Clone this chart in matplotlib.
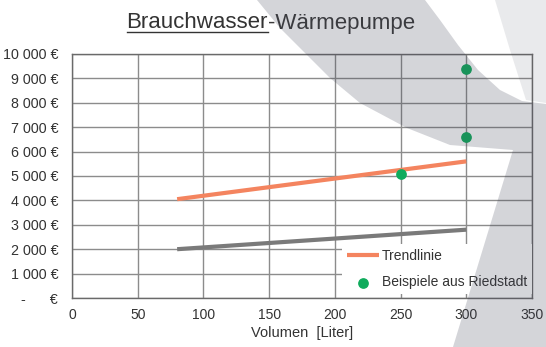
import matplotlib
matplotlib.use("Agg")
import matplotlib.pyplot as plt
from matplotlib.patches import Polygon
from matplotlib.lines import Line2D

plt.rcParams['font.family'] = ['Liberation Sans', 'DejaVu Sans']

# Data
trend_x = [80, 300]
trend_orange = [4050, 5600]
trend_gray = [2000, 2800]
examples_x = [250, 300, 300]
examples_y = [5100, 6600, 9400]
y_ticks = list(range(0, 10001, 1000))
x_ticks = [0, 50, 100, 150, 200, 250, 300, 350]

def fmt(v):
    if v == 0:
        return "-      €"
    return f"{v:,.0f} €".replace(",", " ")

W, H = 546, 347
fig = plt.figure(figsize=(W / 100, H / 100), dpi=100)
fig.patch.set_facecolor('white')

def fp(pts):
    return [(x / W, 1 - y / H) for x, y in pts]

ax = fig.add_axes([72 / W, 1 - 298 / H, (532 - 72) / W, (298 - 54) / H])
ax.set_facecolor('white')
ax.set_xlim(0, 350)
ax.set_ylim(0, 10000)
ax.set_xticks(x_ticks)
ax.set_yticks(y_ticks)
ax.set_yticklabels([fmt(v) for v in y_ticks])
ax.grid(True, color='#8c8c8c', linewidth=1.0)
ax.set_axisbelow(True)
ax.tick_params(length=0, labelsize=10, colors='#333333')
ax.tick_params(axis='y', labelsize=10.3, pad=10)
ax.tick_params(axis='x', pad=7)
for s in ax.spines.values():
    s.set_color('#6a6a6a')
    s.set_linewidth(1.0)

ax.plot(trend_x, trend_gray, color='#7a7a7a', lw=3.0, solid_capstyle='butt')
ax.plot(trend_x, trend_orange, color='#f4845f', lw=3.0, solid_capstyle='butt', label='Trendlinie')
ax.scatter(examples_x, examples_y, s=45, color='#0fab5c', zorder=5, label='Beispiele aus Riedstadt')

leg = ax.legend(loc='lower right', bbox_to_anchor=(1.0, 0.016), frameon=True, fontsize=10,
                handlelength=2.3, handletextpad=0.2, labelspacing=0.9, borderaxespad=0.0,
                borderpad=0.35, fancybox=False, framealpha=1.0)
leg.get_frame().set_facecolor('white')
leg.get_frame().set_edgecolor('none')
for t in leg.get_texts():
    t.set_color('#333333')

ax.set_xlabel('Volumen  [Liter]', fontsize=10.5, color='#333333', labelpad=3)

# Title with underlined first part
tx, ty = 268 / W, 1 - 23 / H
t1 = fig.text(tx, ty, 'Brauchwasser', ha='right', va='center', fontsize=16, color='#333333')
t2 = fig.text(tx, ty, '-Wärmepumpe', ha='left', va='center', fontsize=16, color='#3a3a3a')
fig.canvas.draw()
bb = t1.get_window_extent().transformed(fig.transFigure.inverted())
fig.add_artist(Line2D([bb.x0, bb.x1], [bb.y0 + 0.003, bb.y0 + 0.003],
                      transform=fig.transFigure, color='#333333', lw=1.0))

# decorative translucent overlay shapes (on top)
ov = fig.add_axes([0, 0, 1, 1], zorder=10)
ov.set_xlim(0, 1); ov.set_ylim(0, 1); ov.axis('off')
ov.patch.set_alpha(0)
shade = (0.24, 0.25, 0.33)
ov.add_patch(Polygon(fp([(495, 0), (546, 0), (546, 103), (526, 100), (510, 50)]),
                     closed=True, facecolor=shade, alpha=0.11, edgecolor='none'))
ov.add_patch(Polygon(fp([(257, 0), (280, 28), (305, 53), (330, 78), (360, 103), (407, 128),
                         (450, 145), (513, 150), (453, 347), (546, 347), (546, 104),
                         (522, 101), (500, 90), (478, 70), (458, 45), (440, 20), (425, 0)]),
                     closed=True, facecolor=shade, alpha=0.22, edgecolor='none'))

fig.savefig('out.png', dpi=100)
